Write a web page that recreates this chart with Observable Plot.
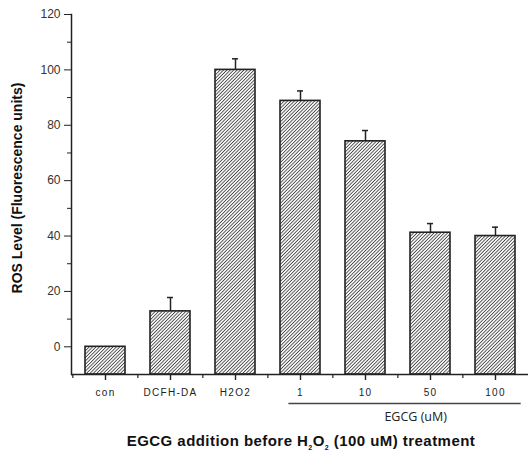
<!DOCTYPE html>
<html><head><meta charset="utf-8">
<script src="https://cdn.jsdelivr.net/npm/d3@7"></script>
<script src="https://cdn.jsdelivr.net/npm/@observablehq/plot@0.6"></script>
<style>body{margin:0;background:#fff}</style>
</head><body><div id="chart"></div>
<script>
const categories = ["con","DCFH-DA","H2O2","1","10","50","100"];
const values = [0, 12.8, 100, 88.8, 74.2, 41.2, 40.0];
const errors = [0, 5.0, 4.0, 3.6, 3.9, 3.3, 3.2];
const majorTicks = [0,20,40,60,80,100,120];
const minorTicks = [10,30,50,70,90,110];
const egcgGroup = ["1","10","50","100"];

const data = categories.map((c,i)=>({cat:c, v:values[i], e:errors[i]}));
const ink = "#222";

const plot = Plot.plot({
  width: 528, height: 457,
  marginLeft: 71, marginRight: 0, marginTop: 14, marginBottom: 83,
  style: {fontFamily: "Arial, 'Liberation Sans', sans-serif", background: "#fff"},
  x: {type: "band", domain: categories, paddingInner: 0.39, paddingOuter: 0.195},
  y: {domain: [-10, 120]},
  marks: [
    Plot.barY(data, {x: "cat", y1: -10, y2: "v", fill: "url(#hatch)", stroke: ink, strokeWidth: 1.6}),
    Plot.ruleX(data.filter(d=>d.e>0), {x: "cat", y1: "v", y2: d=>d.v+d.e, stroke: ink, strokeWidth: 1.5}),
    Plot.tickY(data.filter(d=>d.e>0), {x: "cat", y: d=>d.v+d.e, stroke: ink, strokeWidth: 1.5, insetLeft: 17, insetRight: 17}),
    Plot.axisY({ticks: majorTicks, tickSize: 7, tickPadding: 4, label: null, fontSize: 12, color: "#333", stroke: ink}),
    Plot.axisY({ticks: minorTicks, tickSize: 4, tickFormat: () => "", label: null, stroke: ink}),
    Plot.axisX({tickSize: 0, tickPadding: 14, label: null, fontSize: 10, fill: "#222"}),
    Plot.ruleX(categories, {x: d=>d, y1: -10, y2: -10, insetTop: 0, insetBottom: -6, stroke: ink, strokeWidth: 1.4}),
    Plot.ruleX(categories, {x: d=>d, y1: -10, y2: -10, insetTop: 0, insetBottom: -4, dx: -32.65, stroke: ink, strokeWidth: 1.2}),
    Plot.ruleY([-10], {stroke: ink, strokeWidth: 1.5}),
    Plot.frame({anchor: "left", stroke: ink, strokeWidth: 1.5})
  ]
});

const svg = d3.select(plot);
svg.insert("defs", ":first-child").html(`
  <pattern id="hatch" patternUnits="userSpaceOnUse" width="6" height="2.4" patternTransform="rotate(-45)">
    <rect width="6" height="2.4" fill="#fff"/>
    <line x1="0" y1="1.2" x2="6" y2="1.2" stroke="#444" stroke-width="0.9"/>
  </pattern>`);

svg.selectAll("g[aria-label='x-axis tick label'] text").attr("letter-spacing", "1.3");

const x = plot.scale("x");
const bw = x.bandwidth;

const x0 = x.apply(egcgGroup[0]) + 8.4;
const x1 = x.apply(egcgGroup[egcgGroup.length-1]) + bw + 5.7;
svg.append("line").attr("x1", x0).attr("x2", x1).attr("y1", 403.5).attr("y2", 403.5)
  .attr("stroke", "#444").attr("stroke-width", 1.5);
svg.append("text").attr("x", x1 - 105).attr("y", 421)
  .attr("text-anchor", "middle").attr("font-family", "'Open Sans', Arial, sans-serif").attr("font-size", 12.5).attr("fill", "#222")
  .text("EGCG (uM)");

const xt = svg.append("text").attr("x", 301).attr("y", 446).attr("text-anchor", "middle")
  .attr("font-family", "Arial, 'Liberation Sans', sans-serif").attr("font-weight", "bold").attr("font-size", 15)
  .attr("letter-spacing", 0.45).attr("fill", "#111");
xt.append("tspan").text("EGCG addition before H");
xt.append("tspan").attr("font-size", 7).attr("dy", 4).text("2");
xt.append("tspan").attr("dy", -4).text("O");
xt.append("tspan").attr("font-size", 7).attr("dy", 4).text("2");
xt.append("tspan").attr("dy", -4).text(" (100 uM) treatment");

svg.append("text").attr("transform", "translate(22,188) rotate(-90)").attr("text-anchor", "middle")
  .attr("font-family", "Arial, 'Liberation Sans', sans-serif").attr("font-weight", "bold").attr("font-size", 14).attr("fill", "#111")
  .text("ROS Level (Fluorescence units)");

document.getElementById("chart").appendChild(plot);
</script>
</body></html>
